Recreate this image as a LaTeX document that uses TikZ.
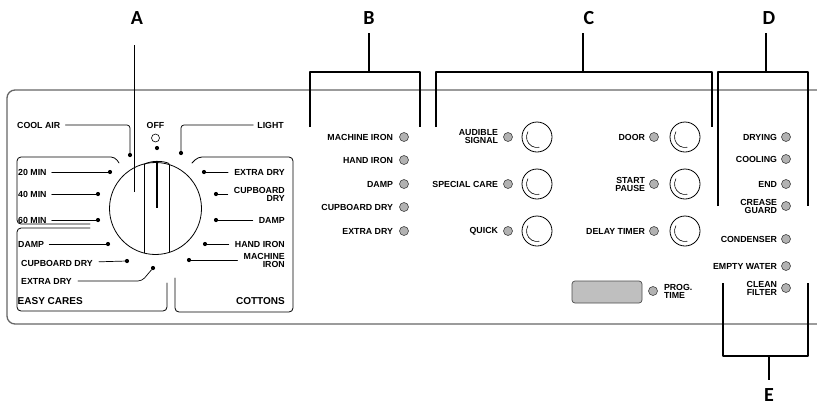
\documentclass[tikz,border=0pt]{standalone}
\usepackage{fontspec}
\setmainfont{Liberation Sans}
\newfontfamily\letterfont{Carlito}
\usetikzlibrary{positioning}

\tikzset{
  panel/.style={font=\bfseries\fontsize{8.8}{8}\selectfont, inner sep=0pt, align=right},
  led/.style={circle, draw=black!75, fill=black!30, line width=0.6pt, minimum size=9pt, inner sep=0pt},
  knob/.style={circle, draw, line width=0.8pt, minimum size=30pt, inner sep=0pt},
  pin/.style={circle, fill, minimum size=4.2pt, inner sep=0pt},
  lead/.style={line width=0.7pt},
  frame/.style={line width=0.8pt, rounded corners=4pt},
  bracket/.style={line width=1.8pt},
  letter/.style={font=\letterfont\bfseries\fontsize{20}{20}\selectfont, inner sep=0pt},
  group/.style={font=\bfseries\fontsize{10}{10}\selectfont, inner sep=0pt},
}

\begin{document}
\begin{tikzpicture}[x=1pt, y=-1pt, line join=round, line cap=round]
\useasboundingbox (0,0) rectangle (817,408);

% panel
\draw[line width=1.3pt, black!60, rounded corners=8pt] (825,90) -- (7,90) -- (7,324) -- (825,324);

% programme dial
\node[circle, draw, line width=0.8pt, minimum size=92pt, inner sep=0pt] (dial) at (155.5,208.5) {};
\begin{scope}
  \clip (155.5,208.5) circle[radius=46];
  \draw[line width=0.8pt] (144,150) -- (144,270) (169,150) -- (169,270);
\end{scope}
\draw[line width=0.8pt] (144,164.5) .. controls (150,160.5) and (163,160.5) .. (169,163.5);
\draw[line width=2.6pt, line cap=butt] (157,161) -- (157,208);

% dial frames
\draw[frame] (119,163) -- (115,157) -- (17,157) -- (17,224) -- (90,224);
\draw[frame] (90,228) -- (17,228) -- (17,311) -- (167,311) -- (167,283);
\draw[frame] (175,278) -- (175,312) -- (293,312) -- (293,157) -- (198,157) -- (192,163);
\node[group, anchor=west] (tEasy) at (17.5,301) {EASY CARES};
\node[group, anchor=east] (tCotton) at (285,301) {COTTONS};

% dial positions, top
\node[panel, anchor=west] (tCool) at (17,125) {COOL AIR};
\node[pin] (pCool) at (130,155) {};
\draw[lead, rounded corners=3pt, shorten <=5pt] (tCool) -| (pCool);
\node[panel] (tOff) at (155.5,125) {OFF};
\node[circle, draw, line width=0.6pt, minimum size=8pt, inner sep=0pt] (ringOff) at (155.5,138) {};
\node[pin] (pOff) at (157,148) {};
\node[panel, anchor=east] (tLight) at (284,125) {LIGHT};
\node[pin] (pLight) at (181,153) {};
\draw[lead, rounded corners=3pt, shorten <=4pt] (tLight) -| (pLight);

% dial positions, left
\foreach \n/\txt/\px/\y in {20/20 MIN/110/172, 40/40 MIN/98/194, 60/60 MIN/98/220, DampL/DAMP/108/244}{
  \node[panel, anchor=west] (t\n) at (18,\y) {\txt};
  \node[pin] (p\n) at (\px,\y) {};
  \draw[lead, shorten <=5pt] (t\n) -- (p\n);
}
\node[panel, anchor=west] (tCupL) at (21,263) {CUPBOARD DRY};
\node[pin] (pCupL) at (127,261) {};
\draw[lead, shorten <=6pt] (tCupL) -- (pCupL);
\node[panel, anchor=west] (tXL) at (21,281) {EXTRA DRY};
\node[pin] (pXL) at (153,268) {};
\draw[lead, rounded corners=4pt, shorten <=6pt] (tXL.east) -- ([xshift=-11pt]tXL.east -| pXL) -- (pXL);

% dial positions, right
\foreach \n/\txt/\px/\y in {XR/EXTRA DRY/204/172, CupR/{CUPBOARD\\DRY}/216/194, DampR/DAMP/216/220, Hand/HAND IRON/205/244, Mach/{MACHINE\\IRON}/189/260}{
  \node[panel, anchor=east] (t\n) at (285,\y) {\txt};
  \node[pin] (p\n) at (\px,\y) {};
  \draw[lead, shorten <=6pt] (t\n) -- (p\n);
}

% B: drying levels
\foreach \i/\txt/\y in {1/MACHINE IRON/137, 2/HAND IRON/160, 3/DAMP/184, 4/CUPBOARD DRY/207, 5/EXTRA DRY/231}{
  \node[led] (ledB\i) at (404,\y) {};
  \node[panel, left=6pt of ledB\i] (txtB\i) {\txt};
}

% C: options and buttons
\foreach \i/\txt/\y in {1/{AUDIBLE\\SIGNAL}/137, 2/SPECIAL CARE/184, 3/QUICK/231}{
  \node[led] (ledC\i) at (508,\y) {};
  \node[panel, left=5pt of ledC\i] (txtC\i) {\txt};
  \node[knob] (btnC\i) at (537,\y) {};
  \draw[line width=0.6pt] (btnC\i.center) ++(-150:10.5) arc[start angle=-150, end angle=-282, radius=10.5];
}
\foreach \i/\txt/\y in {1/DOOR/137, 2/{START\\PAUSE}/184, 3/DELAY TIMER/231}{
  \node[led] (ledR\i) at (654,\y) {};
  \node[panel, left=4pt of ledR\i] (txtR\i) {\txt};
  \node[knob] (btnR\i) at (685,\y) {};
  \draw[line width=0.6pt] (btnR\i.center) ++(-150:10.5) arc[start angle=-150, end angle=-282, radius=10.5];
}
\node[draw=black!70, fill=black!25, rounded corners=3pt, line width=0.7pt, minimum width=70pt, minimum height=22pt, inner sep=0pt] (display) at (607,292) {};
\node[led] (ledProg) at (653,291) {};
\node[panel, align=left, right=6pt of ledProg] (txtProg) {PROG.\\TIME};

% D/E: status lights
\foreach \i/\txt/\y in {1/DRYING/137, 2/COOLING/159, 3/END/184, 4/{CREASE\\GUARD}/206, 5/CONDENSER/239, 6/EMPTY WATER/266, 7/{CLEAN\\FILTER}/288}{
  \node[led] (ledD\i) at (786,\y) {};
  \node[panel, left=4pt of ledD\i] (txtD\i) {\txt};
}

% callouts
\node[letter] (lA) at (137,18) {A};
\node[letter] (lB) at (369,18) {B};
\node[letter] (lC) at (589,18) {C};
\node[letter] (lD) at (769,18) {D};
\node[letter] (lE) at (769,395) {E};
\coordinate (jA) at (134.5,192);
\coordinate (jB) at (369,72);
\coordinate (jC) at (583,72);
\coordinate (jD) at (766,72);
\coordinate (jE) at (769,356);
\draw[bracket, line cap=butt, shorten >=20pt] (jA) -- (jA |- lA.south);
\draw[bracket, line cap=butt] (310,127) -- (310,72) -- (420,72) -- (420,127);
\draw[bracket, line cap=butt, shorten >=8.5pt] (jB) -- (jB |- lB.south);
\draw[bracket, line cap=butt] (436,127) -- (436,72) -- (712,72) -- (712,127);
\draw[bracket, line cap=butt, shorten >=8.5pt] (jC) -- (jC |- lC.south);
\draw[bracket, line cap=butt] (718,206) -- (718,72) -- (808,72) -- (808,206);
\draw[bracket, line cap=butt, shorten >=8.5pt] (jD) -- (jD |- lD.south);
\draw[bracket, line cap=butt] (723,283) -- (723,356) -- (808,356) -- (808,283);
\draw[bracket, line cap=butt, shorten >=8.5pt] (jE) -- (jE |- lE.north);
\end{tikzpicture}
\end{document}
